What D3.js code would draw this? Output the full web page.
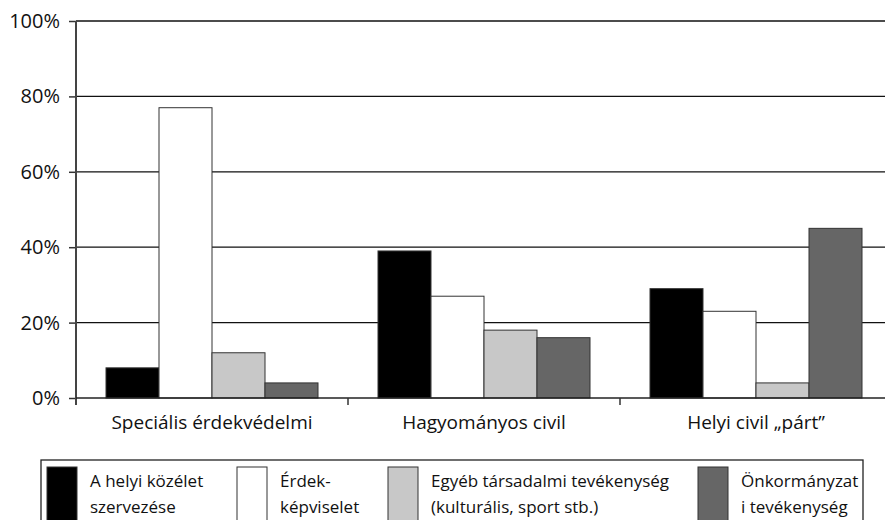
<!DOCTYPE html>
<html>
<head>
<meta charset="utf-8">
<script src="https://cdn.jsdelivr.net/npm/d3@7"></script>
<style>
body { margin: 0; background: #fff; }
svg text { font-family: "Open Sans", "Noto Sans", sans-serif; fill: #111; }
</style>
</head>
<body>
<div id="chart"></div>
<script>
var categories = ["Speciális érdekvédelmi", "Hagyományos civil", "Helyi civil „párt”"];
var seriesNames = ["A helyi közélet szervezése", "Érdek-képviselet", "Egyéb társadalmi tevékenység (kulturális, sport stb.)", "Önkormányzati tevékenység"];
var legendLines = [["A helyi közélet", "szervezése"], ["Érdek-", "képviselet"], ["Egyéb társadalmi tevékenység", "(kulturális, sport stb.)"], ["Önkormányzat", "i tevékenység"]];
var helyiKozelet = [8, 39, 29];
var erdekKepviselet = [77, 27, 23];
var egyebTarsadalmi = [12, 18, 4];
var onkormanyzati = [4, 16, 45];
var yTicks = [0, 20, 40, 60, 80, 100];

var colors = ["#000000", "#ffffff", "#c8c8c8", "#666666"];
var values = [helyiKozelet, erdekKepviselet, egyebTarsadalmi, onkormanyzati];

var W = 885, H = 520;
var margin = {top: 21, left: 76, bottom: 122};
var bw = 272;

var svg = d3.select("#chart").append("svg")
    .attr("width", W)
    .attr("height", H);

var x0 = d3.scaleBand()
    .domain(categories)
    .range([margin.left, margin.left + bw * categories.length]);

var x1 = d3.scaleBand()
    .domain(d3.range(seriesNames.length))
    .range([30, bw - 30]);

var y = d3.scaleLinear()
    .domain([0, 100])
    .range([H - margin.bottom, margin.top]);

// gridlines
svg.selectAll(".grid")
  .data(yTicks.filter(function(d) { return d > 0; }))
  .enter().append("line")
    .attr("x1", margin.left)
    .attr("x2", W)
    .attr("y1", function(d) { return y(d); })
    .attr("y2", function(d) { return y(d); })
    .attr("stroke", "#111")
    .attr("stroke-width", 1.3);

// bars
var groups = svg.selectAll(".group")
  .data(categories)
  .enter().append("g")
    .attr("transform", function(d) { return "translate(" + x0(d) + ",0)"; });

groups.selectAll("rect")
  .data(function(d, ci) { return values.map(function(v, si) { return {s: si, v: v[ci]}; }); })
  .enter().append("rect")
    .attr("x", function(d) { return x1(d.s); })
    .attr("width", x1.bandwidth())
    .attr("y", function(d) { return y(d.v); })
    .attr("height", function(d) { return y(0) - y(d.v); })
    .attr("fill", function(d) { return colors[d.s]; })
    .attr("stroke", "#333")
    .attr("stroke-width", 1);

// y axis
var yAxis = svg.append("g")
    .attr("transform", "translate(" + margin.left + ",0)")
    .call(d3.axisLeft(y).tickValues(yTicks).tickSize(7).tickPadding(9)
      .tickFormat(function(d) { return d + "%"; }));
yAxis.select(".domain").remove();
yAxis.selectAll(".tick line").attr("stroke", "#333").attr("stroke-width", 1.5);
yAxis.selectAll("text").style("font-size", "20px").attr("fill", "#111")
    .attr("font-family", "'Open Sans', sans-serif");
svg.append("line")
    .attr("x1", margin.left).attr("x2", margin.left)
    .attr("y1", margin.top).attr("y2", y(0) + 7)
    .attr("stroke", "#444").attr("stroke-width", 2);

// x axis
svg.append("line")
    .attr("x1", margin.left).attr("x2", W)
    .attr("y1", y(0)).attr("y2", y(0))
    .attr("stroke", "#222").attr("stroke-width", 1.5);
svg.selectAll(".xtick")
  .data(categories.slice(1))
  .enter().append("line")
    .attr("x1", function(d) { return x0(d); })
    .attr("x2", function(d) { return x0(d); })
    .attr("y1", y(0))
    .attr("y2", y(0) + 7)
    .attr("stroke", "#333")
    .attr("stroke-width", 1.5);
svg.selectAll(".xlabel")
  .data(categories)
  .enter().append("text")
    .attr("x", function(d) { return x0(d) + bw / 2; })
    .attr("y", y(0) + 31)
    .attr("text-anchor", "middle")
    .style("font-size", "19px")
    .text(function(d) { return d; });

// legend
svg.append("rect")
    .attr("x", 41).attr("y", 460)
    .attr("width", 822).attr("height", 70)
    .attr("fill", "none")
    .attr("stroke", "#222")
    .attr("stroke-width", 1.3);

var legX = [47, 237, 388, 698];
var legend = svg.selectAll(".legend")
  .data(seriesNames)
  .enter().append("g")
    .attr("transform", function(d, i) { return "translate(" + legX[i] + ",467)"; });

legend.append("rect")
    .attr("width", 30)
    .attr("height", 60)
    .attr("fill", function(d, i) { return colors[i]; })
    .attr("stroke", "#333");

legend.each(function(d, i) {
  var t = d3.select(this).append("text")
      .attr("x", 43)
      .attr("y", 20)
      .style("font-size", "17px");
  legendLines[i].forEach(function(line, li) {
    t.append("tspan")
      .attr("x", 43)
      .attr("dy", li === 0 ? 0 : 26)
      .text(line);
  });
});
</script>
</body>
</html>
